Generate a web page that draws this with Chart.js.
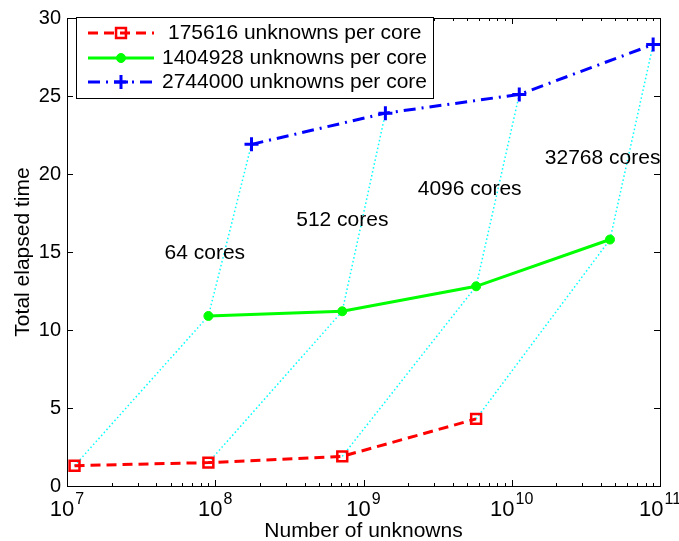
<!DOCTYPE html>
<html lang="en">
<head>
    <meta charset="UTF-8">
    <title>Total elapsed time vs number of unknowns</title>
    <style>
        body {
            margin: 0;
            padding: 0;
            background: #fff;
        }
        .wrap {
            width: 679px;
            height: 541px;
            position: relative;
        }
    </style>
    <script src="https://cdn.jsdelivr.net/npm/chart.js"></script>
</head>
<body>
    <div class="wrap">
        <canvas id="timingChart"></canvas>
    </div>
    <script>
        // core counts used in each run
        const coreCounts = [64, 512, 4096, 32768];

        // number of unknowns (x) per series
        const unknownsSmall = [1.124e7, 8.99e7, 7.19e8, 5.75e9];
        const unknownsMid = [8.99e7, 7.19e8, 5.75e9, 4.6e10];
        const unknownsLarge = [1.756e8, 1.405e9, 1.124e10, 8.99e10];

        // total elapsed time (y) per series
        const timeSmall = [1.3, 1.5, 1.9, 4.3];
        const timeMid = [10.9, 11.2, 12.8, 15.8];
        const timeLarge = [21.9, 23.9, 25.1, 28.3];

        const seriesLabels = ['175616 unknowns per core', '1404928 unknowns per core', '2744000 unknowns per core'];

        // where the "N cores" annotations sit (data coords)
        const coreLabelX = [8.5e7, 7.2e8, 5.2e9, 4.1e10];
        const coreLabelY = [14.9, 17.05, 19.0, 21.0];

        const xTicks = [1e7, 1e8, 1e9, 1e10, 1e11];
        const yTicks = [0, 5, 10, 15, 20, 25, 30];

        const FONT = '"Liberation Sans", Arial, Helvetica, sans-serif';

        function pts(xs, ys) {
            return xs.map((x, i) => ({ x: x, y: ys[i] }));
        }

        const mainSets = [
            {
                label: seriesLabels[0],
                data: pts(unknownsSmall, timeSmall),
                borderColor: '#ff0000',
                borderWidth: 3,
                borderDash: [10, 6],
                pointStyle: 'rect',
                pointRadius: 7,
                pointBorderWidth: 2.5,
                pointBorderColor: '#ff0000',
                pointBackgroundColor: 'rgba(0,0,0,0)'
            },
            {
                label: seriesLabels[1],
                data: pts(unknownsMid, timeMid),
                borderColor: '#00ff00',
                borderWidth: 3,
                pointStyle: 'circle',
                pointRadius: 4.5,
                pointBorderWidth: 1,
                pointBorderColor: '#00ff00',
                pointBackgroundColor: '#00ff00'
            },
            {
                label: seriesLabels[2],
                data: pts(unknownsLarge, timeLarge),
                borderColor: '#0000ff',
                borderWidth: 3,
                borderDash: [12, 6, 2, 6],
                pointStyle: 'cross',
                pointRadius: 7,
                pointBorderWidth: 3,
                pointBorderColor: '#0000ff',
                pointBackgroundColor: '#0000ff'
            }
        ];

        // cyan dotted lines joining the runs with the same core count
        const coreSets = coreCounts.map((c, i) => ({
            label: c + ' cores',
            data: [
                { x: unknownsSmall[i], y: timeSmall[i] },
                { x: unknownsMid[i], y: timeMid[i] },
                { x: unknownsLarge[i], y: timeLarge[i] }
            ],
            borderColor: '#00ffff',
            borderWidth: 1.5,
            borderDash: [1.5, 2.5],
            pointRadius: 0
        }));

        function drawMarker(ctx, ds, x, y) {
            Chart.helpers.drawPoint(ctx, {
                pointStyle: ds.pointStyle,
                radius: ds.pointRadius,
                borderWidth: ds.pointBorderWidth
            }, x, y);
        }

        const matlabAxes = {
            id: 'matlabAxes',
            afterDatasetsDraw(chart) {
                const ctx = chart.ctx;
                const a = chart.chartArea;
                const xs = chart.scales.x;
                const ys = chart.scales.y;
                ctx.save();

                // core annotations
                ctx.fillStyle = '#000';
                ctx.font = '21px ' + FONT;
                ctx.textAlign = 'center';
                ctx.textBaseline = 'middle';
                coreCounts.forEach((c, i) => {
                    ctx.fillText(c + ' cores', xs.getPixelForValue(coreLabelX[i]), ys.getPixelForValue(coreLabelY[i]));
                });

                // box
                ctx.strokeStyle = '#000';
                ctx.lineWidth = 1;
                ctx.setLineDash([]);
                ctx.strokeRect(a.left + 0.5, a.top + 0.5, a.right - a.left, a.bottom - a.top);

                // y ticks (inward on both sides)
                ctx.beginPath();
                yTicks.forEach(v => {
                    const py = Math.round(ys.getPixelForValue(v)) + 0.5;
                    ctx.moveTo(a.left, py); ctx.lineTo(a.left + 6, py);
                    ctx.moveTo(a.right, py); ctx.lineTo(a.right - 6, py);
                });
                // x major + minor ticks
                for (let d = 7; d <= 11; d++) {
                    for (let m = 1; m <= 9; m++) {
                        const v = m * Math.pow(10, d);
                        if (v > 1e11) break;
                        const px = Math.round(xs.getPixelForValue(v)) + 0.5;
                        const len = m === 1 ? 6 : 3;
                        ctx.moveTo(px, a.bottom); ctx.lineTo(px, a.bottom - len);
                        ctx.moveTo(px, a.top); ctx.lineTo(px, a.top + len);
                    }
                }
                ctx.stroke();

                // y tick labels
                ctx.font = '20px ' + FONT;
                ctx.textAlign = 'right';
                ctx.textBaseline = 'middle';
                yTicks.forEach(v => {
                    ctx.fillText(String(v), a.left - 6, ys.getPixelForValue(v));
                });

                // x tick labels 10^n
                xTicks.forEach(v => {
                    const px = xs.getPixelForValue(v);
                    const exp = String(Math.round(Math.log10(v)));
                    ctx.font = '22px ' + FONT;
                    const wBase = ctx.measureText('10').width;
                    ctx.font = '16px ' + FONT;
                    const wExp = ctx.measureText(exp).width;
                    const left = px - (wBase + wExp + 1) / 2;
                    ctx.textAlign = 'left';
                    ctx.textBaseline = 'alphabetic';
                    ctx.font = '22px ' + FONT;
                    ctx.fillText('10', left, a.bottom + 30);
                    ctx.font = '16px ' + FONT;
                    ctx.fillText(exp, left + wBase + 1, a.bottom + 18);
                });

                // axis titles
                ctx.font = '21px ' + FONT;
                ctx.textAlign = 'center';
                ctx.textBaseline = 'alphabetic';
                ctx.fillText('Number of unknowns', (a.left + a.right) / 2, 537);
                ctx.save();
                ctx.translate(29, (a.top + a.bottom) / 2);
                ctx.rotate(-Math.PI / 2);
                ctx.fillText('Total elapsed time', 0, 0);
                ctx.restore();

                // legend
                const lx = 76, ly = 17, lw = 357, lh = 81;
                ctx.fillStyle = '#fff';
                ctx.fillRect(lx, ly, lw, lh);
                ctx.strokeStyle = '#000';
                ctx.lineWidth = 1;
                ctx.strokeRect(lx + 0.5, ly + 0.5, lw, lh);
                const rowY = [33, 58, 82];
                mainSets.forEach((ds, i) => {
                    const y = rowY[i];
                    ctx.strokeStyle = ds.borderColor;
                    ctx.lineWidth = ds.borderWidth;
                    ctx.setLineDash(ds.borderDash || []);
                    ctx.beginPath();
                    ctx.moveTo(88, y); ctx.lineTo(154, y);
                    ctx.stroke();
                    ctx.setLineDash([]);
                    ctx.fillStyle = ds.pointBackgroundColor;
                    ctx.strokeStyle = ds.pointBorderColor;
                    ctx.lineWidth = ds.pointBorderWidth;
                    drawMarker(ctx, ds, 121, y);
                    ctx.fillStyle = '#000';
                    ctx.font = '21px ' + FONT;
                    ctx.textAlign = 'left';
                    ctx.textBaseline = 'middle';
                    ctx.fillText(ds.label, i === 0 ? 168 : 162, y);
                });

                ctx.restore();
            }
        };

        const ctx = document.getElementById('timingChart').getContext('2d');
        const timingChart = new Chart(ctx, {
            type: 'line',
            data: {
                datasets: mainSets.concat(coreSets)
            },
            options: {
                responsive: true,
                maintainAspectRatio: false,
                animation: false,
                layout: {
                    padding: { left: 67, right: 19, top: 18, bottom: 55 }
                },
                plugins: {
                    legend: { display: false },
                    tooltip: { enabled: false }
                },
                scales: {
                    x: {
                        type: 'logarithmic',
                        min: 1e7,
                        max: 1e11,
                        grid: { display: false },
                        border: { display: false },
                        ticks: { display: false },
                        afterFit: s => { s.height = 0; }
                    },
                    y: {
                        min: 0,
                        max: 30,
                        grid: { display: false },
                        border: { display: false },
                        ticks: { display: false },
                        afterFit: s => { s.width = 0; }
                    }
                }
            },
            plugins: [matlabAxes]
        });
    </script>
</body>
</html>
